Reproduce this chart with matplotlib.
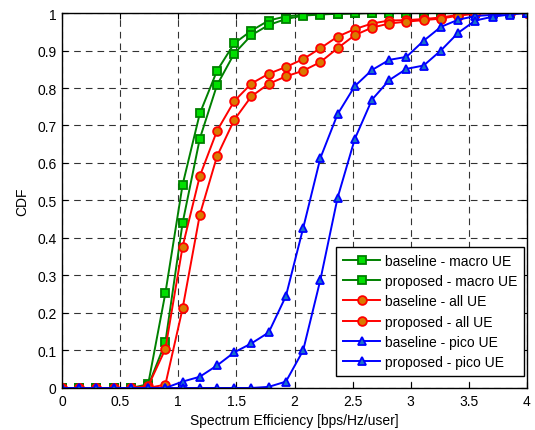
import numpy as np
import matplotlib
matplotlib.use("Agg")
import matplotlib.pyplot as plt

plt.rcParams["font.family"] = ["Liberation Sans", "DejaVu Sans"]

# 28 pontos igualmente espaçados de 0 a 4
se = np.linspace(0, 4, 28)

macro_base = [0, 0, 0, 0, 0, 0.01, 0.253, 0.542, 0.732, 0.846, 0.919, 0.953, 0.98, 0.991,
              0.995, 0.997, 0.998, 0.999, 1, 1, 1, 1, 1, 1, 1, 1, 1, 1]
macro_prop = [0, 0, 0, 0, 0, 0.005, 0.122, 0.44, 0.665, 0.808, 0.892, 0.941, 0.968, 0.984,
              0.993, 0.996, 0.998, 0.999, 1, 1, 1, 1, 1, 1, 1, 1, 1, 1]
all_base = [0, 0, 0, 0, 0, 0.005, 0.104, 0.377, 0.565, 0.686, 0.765, 0.812, 0.838, 0.856,
            0.877, 0.906, 0.937, 0.957, 0.972, 0.98, 0.981, 0.984, 0.988, 0.995, 0.999, 1, 1, 1]
all_prop = [0, 0, 0, 0, 0, 0, 0.009, 0.212, 0.462, 0.618, 0.715, 0.778, 0.811, 0.831,
            0.846, 0.869, 0.906, 0.941, 0.961, 0.972, 0.977, 0.981, 0.985, 0.993, 0.998, 1, 1, 1]
pico_base = [0, 0, 0, 0, 0, 0, 0, 0.017, 0.03, 0.06, 0.095, 0.119, 0.148, 0.245,
             0.426, 0.613, 0.73, 0.805, 0.848, 0.875, 0.883, 0.926, 0.963, 0.982, 0.992, 0.995, 1, 1]
pico_prop = [0, 0, 0, 0, 0, 0, 0, 0, 0, 0, 0, 0, 0.003, 0.017,
             0.1, 0.288, 0.507, 0.664, 0.769, 0.821, 0.851, 0.86, 0.9, 0.947, 0.98, 0.99, 0.996, 1]

xticks = [0, 0.5, 1, 1.5, 2, 2.5, 3, 3.5, 4]
yticks = np.round(np.arange(0, 1.01, 0.1), 1)
ytick_labels = ["0"] + [f"{v:.1f}" for v in yticks[1:-1]] + ["1"]

fig = plt.figure(figsize=(5.35, 4.31), dpi=100)
ax = fig.add_axes([0.116, 0.0975, 0.869, 0.870])

estilos = [
    (macro_base, "baseline - macro UE", "#008000", "s", "#00e000"),
    (macro_prop, "proposed - macro UE", "#008000", "s", "#00e000"),
    (all_base, "baseline - all UE", "#ff0000", "o", "#d97a00"),
    (all_prop, "proposed - all UE", "#ff0000", "o", "#d97a00"),
    (pico_base, "baseline - pico UE", "#0000ff", "^", "#1a74c8"),
    (pico_prop, "proposed - pico UE", "#0000ff", "^", "#1a74c8"),
]
for y, rot, cor, mk, face in estilos:
    ax.plot(se, y, color=cor, lw=1.4, marker=mk, ms=6.3, mfc=face, mec=cor, mew=1.3,
            label=rot)

ax.set_xlim(0, 4)
ax.set_ylim(0, 1)
ax.set_xticks(xticks)
ax.set_xticklabels([f"{v:g}" for v in xticks])
ax.set_yticks(yticks)
ax.set_yticklabels(ytick_labels)
ax.tick_params(direction="in", labelsize=10, length=4, top=True, right=True, pad=4)
ax.grid(True, color="black", ls=(0, (6, 4.5)), lw=0.8, alpha=0.8)
ax.set_xlabel("Spectrum Efficiency [bps/Hz/user]", fontsize=10, labelpad=4)
ax.set_ylabel("CDF", fontsize=10, labelpad=6)
for s in ax.spines.values():
    s.set_linewidth(1.0)

leg = ax.legend(loc="lower right", bbox_to_anchor=(0.9935, 0.032), fontsize=10,
                fancybox=False, framealpha=1, edgecolor="black", borderpad=0.5,
                labelspacing=0.45, handlelength=2.7, handletextpad=0.3,
                borderaxespad=0)
leg.get_frame().set_linewidth(1.0)

fig.savefig("out.png", dpi=100)
